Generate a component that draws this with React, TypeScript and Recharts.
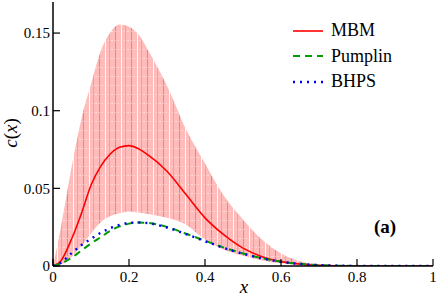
import React from 'react';
import { ComposedChart, Line, Area, XAxis, YAxis } from 'recharts';

const xs = [0, 0.02, 0.05, 0.075, 0.1, 0.125, 0.15, 0.175, 0.2, 0.225, 0.25, 0.3, 0.35, 0.4, 0.45, 0.5, 0.55, 0.6, 0.65, 0.7, 0.75, 0.8, 0.9, 1.0];
const mbm = [0, 0.003, 0.018, 0.034, 0.052, 0.064, 0.072, 0.0765, 0.0775, 0.0755, 0.0715, 0.061, 0.046, 0.031, 0.02, 0.0115, 0.006, 0.0028, 0.0012, 0.0004, 0.0001, 0, 0, 0];
const bandHi = [0, 0.024, 0.065, 0.095, 0.117, 0.138, 0.15, 0.1555, 0.154, 0.149, 0.139, 0.116, 0.088, 0.066, 0.045, 0.03, 0.017, 0.008, 0.003, 0.001, 0.0003, 0, 0, 0];
const bandLo = [0, 0.001, 0.006, 0.013, 0.021, 0.028, 0.032, 0.034, 0.035, 0.0345, 0.0335, 0.031, 0.0265, 0.017, 0.0105, 0.0066, 0.0036, 0.0017, 0.0007, 0.0002, 0.00005, 0, 0, 0];
const pumplin = [0, 0.0015, 0.0055, 0.01, 0.0145, 0.0185, 0.0225, 0.0255, 0.0273, 0.028, 0.0277, 0.0252, 0.0208, 0.0163, 0.0118, 0.0081, 0.005, 0.0028, 0.0014, 0.0006, 0.0002, 0.00005, 0, 0];
const bhps = [0, 0.002, 0.0085, 0.0135, 0.0175, 0.0213, 0.0243, 0.0265, 0.0277, 0.028, 0.0276, 0.0248, 0.0205, 0.016, 0.0116, 0.0079, 0.0049, 0.0027, 0.0013, 0.0006, 0.0002, 0.00005, 0, 0];

const xMajor = [0, 0.2, 0.4, 0.6, 0.8, 1];
const xMinor = [0.1, 0.3, 0.5, 0.7, 0.9];
const yMajor = [0, 0.05, 0.1, 0.15];
const yMinor = [0.01, 0.02, 0.03, 0.04, 0.06, 0.07, 0.08, 0.09, 0.11, 0.12, 0.13, 0.14, 0.16];
const xTickLabels = ['0', '0.2', '0.4', '0.6', '0.8', '1'];
const yTickLabels = ['0', '0.05', '0.1', '0.15'];

const data = xs.map((x, i) => ({
  x,
  mbm: mbm[i],
  band: [bandLo[i], bandHi[i]],
  pumplin: pumplin[i],
  bhps: bhps[i],
}));

const FONT = '"Liberation Serif", "DejaVu Serif", "Noto Serif", Tinos, serif';
const tickStyle = { fill: '#000', fontSize: 15, fontFamily: FONT };
const axisLine = { stroke: '#000', strokeWidth: 1.5 };
const tickLine = { stroke: '#000', strokeWidth: 1.2 };

export default function App() {
  return (
    <div style={{ position: 'absolute', left: 0, top: 0, width: 436, height: 296, background: '#fff' }}>
      <ComposedChart width={436} height={296} data={data} margin={{ top: 2, right: 3, bottom: 0, left: 0 }}>
        <defs>
          <pattern id="hatch" patternUnits="userSpaceOnUse" width="16" height="9">
            <rect x="0" y="0" width="16" height="9" fill="#ffbaba" />
            <line x1="3.5" y1="0" x2="3.5" y2="9" stroke="#ff7a7a" strokeWidth="1" />
            <line x1="9.5" y1="0" x2="9.5" y2="9" stroke="#ffffff" strokeWidth="1" strokeOpacity="0.9" />
            <line x1="13.5" y1="0" x2="13.5" y2="9" stroke="#ff9a9a" strokeWidth="1" />
            <line x1="0" y1="4.5" x2="16" y2="4.5" stroke="#ffffff" strokeWidth="1" strokeDasharray="1 2" strokeOpacity="0.5" />
          </pattern>
        </defs>
        <XAxis xAxisId="xm" dataKey="x" type="number" domain={[0, 1]} ticks={xMinor} tick={false} tickSize={-4} tickLine={tickLine} axisLine={false} height={0} allowDataOverflow />
        <XAxis
          xAxisId="x"
          dataKey="x"
          type="number"
          domain={[0, 1]}
          ticks={xMajor}
          tickFormatter={(v: number) => xTickLabels[xMajor.indexOf(v)] ?? String(v)}
          tick={tickStyle}
          tickSize={-7}
          tickMargin={12}
          tickLine={tickLine}
          axisLine={axisLine}
          height={30}
          interval={0}
          allowDataOverflow
          label={{
            content: (props: any) => {
              const vb = props.viewBox || { x: 53, y: 266, width: 380 };
              return (
                <text x={vb.x + vb.width / 2 + 1} y={vb.y + 27} textAnchor="middle" fontFamily={FONT} fontStyle="italic" fontSize={19} fill="#000">
                  x
                </text>
              );
            },
          }}
        />
        <XAxis xAxisId="tm" orientation="top" dataKey="x" type="number" domain={[0, 1]} ticks={xMinor} tick={false} tickSize={-4} tickLine={tickLine} axisLine={false} height={0} allowDataOverflow />
        <XAxis xAxisId="t" orientation="top" dataKey="x" type="number" domain={[0, 1]} ticks={xMajor} tick={false} tickSize={-7} tickLine={tickLine} axisLine={axisLine} height={0} allowDataOverflow />
        <YAxis yAxisId="ym" type="number" domain={[0, 0.17]} ticks={yMinor} tick={false} tickSize={-4} tickLine={tickLine} axisLine={false} width={0} allowDataOverflow />
        <YAxis
          yAxisId="y"
          type="number"
          domain={[0, 0.17]}
          ticks={yMajor}
          tickFormatter={(v: number) => yTickLabels[yMajor.indexOf(v)] ?? String(v)}
          tick={tickStyle}
          tickSize={-7}
          tickMargin={10}
          tickLine={tickLine}
          axisLine={axisLine}
          width={53}
          interval={0}
          allowDataOverflow
          label={{
            content: () => (
              <text x={17} y={133} transform="rotate(-90, 17, 133)" textAnchor="middle" fontFamily={FONT} fontSize={19} fill="#000">
                <tspan fontStyle="italic">c</tspan>
                <tspan>(</tspan>
                <tspan fontStyle="italic">x</tspan>
                <tspan>)</tspan>
              </text>
            ),
          }}
        />
        <YAxis yAxisId="rm" orientation="right" type="number" domain={[0, 0.17]} ticks={yMinor} tick={false} tickSize={-4} tickLine={tickLine} axisLine={false} width={0} allowDataOverflow />
        <YAxis yAxisId="r" orientation="right" type="number" domain={[0, 0.17]} ticks={yMajor} tick={false} tickSize={-7} tickLine={tickLine} axisLine={axisLine} width={0} allowDataOverflow />

        <Area xAxisId="x" yAxisId="y" dataKey="band" type="monotone" stroke="none" fill="url(#hatch)" fillOpacity={1} isAnimationActive={false} />
        <Line xAxisId="x" yAxisId="y" dataKey="mbm" type="monotone" stroke="#ff0000" strokeWidth={1.6} dot={false} isAnimationActive={false} />
        <Line xAxisId="x" yAxisId="y" dataKey="pumplin" type="monotone" stroke="#009a00" strokeWidth={2} strokeDasharray="7 5" dot={false} isAnimationActive={false} />
        <Line xAxisId="x" yAxisId="y" dataKey="bhps" type="monotone" stroke="#0000ff" strokeWidth={2.4} strokeDasharray="2 5" dot={false} isAnimationActive={false} />
      </ComposedChart>

      <div style={{ position: 'absolute', left: 292, top: 18, fontFamily: FONT, fontSize: 18, color: '#000', lineHeight: '25.5px' }}>
        {[
          { name: 'MBM', color: '#ff0000', dash: undefined, w: 1.6 },
          { name: 'Pumplin', color: '#009a00', dash: '7 5', w: 2 },
          { name: 'BHPS', color: '#0000ff', dash: '2 5', w: 2.4 },
        ].map((s) => (
          <div key={s.name} style={{ display: 'flex', alignItems: 'center', height: 25.5 }}>
            <svg width={31} height={10} style={{ marginRight: 8 }}>
              <line x1={1} y1={5} x2={31} y2={5} stroke={s.color} strokeWidth={s.w} strokeDasharray={s.dash} />
            </svg>
            <span>{s.name}</span>
          </div>
        ))}
      </div>
      <div style={{ position: 'absolute', left: 374, top: 216, fontFamily: FONT, fontSize: 19, fontWeight: 'bold', color: '#000' }}>(a)</div>
    </div>
  );
}
